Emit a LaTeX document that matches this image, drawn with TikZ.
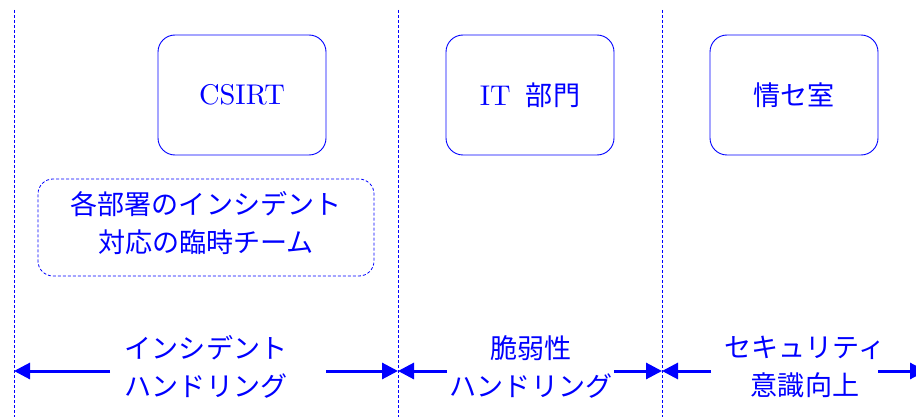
\documentclass[tikz,border=0pt]{standalone}
\usepackage{fontspec}
\setmainfont{lmroman10-regular}[Extension=.otf]
\newfontfamily\cjk{Noto Sans CJK JP}[Scale=0.95]
\usetikzlibrary{arrows.meta}
\definecolor{ink}{RGB}{0,0,255}
\begin{document}
\begin{tikzpicture}[x=1pt,y=-1pt,
  every node/.style={text=ink, font=\fontsize{28.5}{38}\selectfont, align=center},
  orgbox/.style={draw=ink, line width=0.9pt, rounded corners=17pt, minimum width=168pt, minimum height=120pt, inner sep=0pt},
  teambox/.style={draw=ink, line width=0.8pt, dash pattern=on 3pt off 2pt, rounded corners=15pt, minimum width=336pt, minimum height=97pt, inner sep=0pt},
  divider/.style={draw=ink, line width=0.8pt, dash pattern=on 3pt off 2pt},
  span/.style={draw=ink, line width=3pt, -{Triangle[length=16pt,width=16pt]}},
  phase/.style={inner sep=0pt}
]
\useasboundingbox (0,0) rectangle (916,417);
\clip (0,0) rectangle (916,417);
% dividers
\coordinate (d1t) at (14,10);  \coordinate (d1b) at (14,417);
\coordinate (d2t) at (398,10); \coordinate (d2b) at (398,417);
\coordinate (d3t) at (662,10); \coordinate (d3b) at (662,417);
\draw[divider] (d1t) -- (d1b);
\draw[divider] (d2t) -- (d2b);
\draw[divider] (d3t) -- (d3b);
% boxes
\node[orgbox] (csirt) at (242,95) {CSIRT};
\node[orgbox] (it) at (530,95) {IT\hspace{0.2em} {\cjk 部門}};
\node[orgbox] (isec) at (794,95) {\cjk 情セ室};
\node[teambox] (team) at (206,227.5) {};
\node[phase] (teamtext) at (206,223) {\cjk 各部署のインシデント\\\cjk 対応の臨時チーム};
% phases
\node[phase] (p1) at (206,367) {\cjk インシデント\\\cjk ハンドリング};
\node[phase] (p2) at (531,367) {\cjk 脆弱性\\\cjk ハンドリング};
\node[phase] (p3) at (805,367) {\cjk セキュリティ\\\cjk 意識向上};
% arrow ends
\coordinate (a1) at (14,371);
\coordinate (a2) at (398,371);
\coordinate (a3) at (662,371);
\coordinate (a4) at (926,371);
\coordinate (s1l) at (110,371);
\coordinate (s1r) at (326,371);
\coordinate (s2l) at (447,371);
\coordinate (s2r) at (614,371);
\coordinate (s3l) at (711,371);
\coordinate (s3r) at (878,371);
\draw[span] (s1l) -- (a1);
\draw[span] (s1r) -- (a2);
\draw[span] (s2l) -- (a2);
\draw[span] (s2r) -- (a3);
\draw[span] (s3l) -- (a3);
\draw[span] (s3r) -- (a4);
\end{tikzpicture}
\end{document}
